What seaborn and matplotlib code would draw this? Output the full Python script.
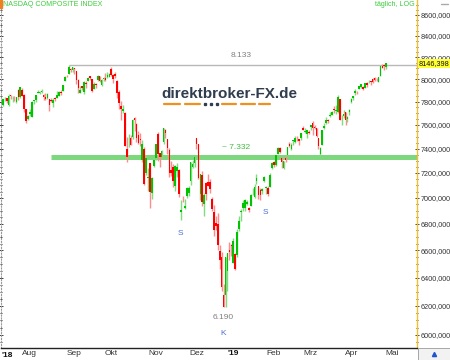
import numpy as np
import pandas as pd
import matplotlib
matplotlib.use('Agg')
import matplotlib.pyplot as plt
import seaborn as sns
from matplotlib.ticker import FixedLocator, NullFormatter
from matplotlib.lines import Line2D
from matplotlib.patches import Rectangle

# NASDAQ Composite, daily candles 12.07.2018 - 26.04.2019
start_day = '2018-07-12'
end_axis_day = '2019-05-01'
holidays = ['2018-09-03', '2018-11-22', '2018-12-05', '2018-12-25',
            '2019-01-01', '2019-01-21', '2019-02-18', '2019-04-19']

opens = [
    7771, 7826, 7830, 7770, 7855, 7825, 7823, 7799, 7906, 7843, 7900, 7864, 7733, 7654,
    7691, 7670, 7807, 7815, 7880, 7880, 7885, 7862, 7843, 7836, 7827, 7816, 7790, 7831, 7835, 7853, 7885, 7898, 7986, 8033, 8048, 8090, 8085,
    8101, 8071, 7996, 7880, 7936, 7885, 7969, 7987, 8027, 8006, 7914, 7960, 7990, 8032, 7949, 8004, 8009, 8017, 8023,
    8090, 8034, 8045, 7985, 7886, 7761, 7719, 7706, 7396, 7493, 7485, 7498, 7655, 7609, 7517, 7480, 7306, 7400, 7203, 7160, 7278, 7042, 7254,
    7322, 7526, 7360, 7327, 7454, 7552, 7479, 7386, 7224, 7250, 7096, 7212, 7225, 6892, 6974, 6920, 7014, 7037, 7136, 7250, 7279,
    7486, 7434, 7029, 7180, 6950, 7119, 7124, 7123, 6990, 6891, 6808, 6799, 6594, 6553, 6278, 6278, 6449, 6600, 6638,
    6507, 6573, 6568, 6758, 6893, 6923, 6918, 6956, 6918, 6938, 7028, 7004, 7138, 7096, 7064, 7059, 7135, 7079, 7079, 7086, 7240,
    7286, 7264, 7358, 7403, 7325, 7243, 7325, 7350, 7437, 7397, 7467, 7454, 7491, 7481, 7485, 7572, 7541, 7524, 7539,
    7578, 7620, 7584, 7575, 7490, 7351, 7432, 7575, 7615, 7641, 7680, 7689, 7739, 7720, 7707, 7821, 7631, 7679, 7711, 7653, 7711,
    7800, 7829, 7877, 7893, 7914, 7927, 7929, 7925, 7969, 7981, 7985, 7998, 8010, 8000, 7979, 8030, 8123, 8127, 8109,
]
highs = [
    7828, 7843, 7837, 7866, 7859, 7849, 7852, 7845, 7913, 7933, 7920, 7870, 7739, 7689,
    7738, 7811, 7813, 7862, 7905, 7898, 7914, 7868, 7876, 7875, 7828, 7832, 7830, 7838, 7891, 7897, 7902, 7947, 8028, 8039, 8133, 8099, 8115,
    8104, 8072, 8000, 7944, 7944, 7984, 7983, 8016, 8031, 8006, 7974, 7968, 8036, 8032, 8000, 8020, 8053, 8062, 8056,
    8112, 8049, 8067, 7989, 7903, 7810, 7772, 7715, 7498, 7523, 7513, 7652, 7666, 7618, 7545, 7528, 7469, 7410, 7343, 7240, 7283, 7168, 7344,
    7438, 7538, 7361, 7392, 7573, 7564, 7480, 7403, 7294, 7276, 7263, 7279, 7229, 6981, 7017, 6993, 7085, 7098, 7292, 7304, 7332,
    7487, 7435, 7191, 7216, 7040, 7123, 7191, 7151, 7006, 6942, 6862, 6881, 6641, 6586, 6355, 6554, 6580, 6664, 6650,
    6694, 6580, 6760, 6856, 6910, 6987, 6989, 6987, 6928, 7031, 7080, 7110, 7188, 7098, 7076, 7082, 7176, 7092, 7091, 7197, 7291,
    7299, 7348, 7413, 7410, 7327, 7298, 7338, 7416, 7453, 7447, 7472, 7503, 7505, 7481, 7528, 7594, 7570, 7558, 7559,
    7598, 7632, 7598, 7576, 7492, 7410, 7560, 7619, 7664, 7654, 7712, 7721, 7762, 7775, 7857, 7827, 7684, 7729, 7714, 7680, 7733,
    7830, 7849, 7910, 7899, 7939, 7954, 7944, 7964, 7972, 7994, 7986, 8013, 8016, 8007, 8017, 8125, 8140, 8139, 8148,
]
lows = [
    7766, 7806, 7793, 7766, 7820, 7797, 7811, 7791, 7819, 7829, 7847, 7713, 7620, 7640,
    7678, 7668, 7783, 7800, 7877, 7870, 7881, 7814, 7815, 7828, 7723, 7800, 7750, 7803, 7831, 7847, 7862, 7894, 7985, 8016, 8047, 8065, 8068,
    8050, 7958, 7880, 7875, 7904, 7869, 7918, 7982, 7990, 7889, 7910, 7918, 7987, 7978, 7941, 7980, 7985, 8015, 8017,
    8031, 7963, 8011, 7829, 7738, 7640, 7701, 7422, 7292, 7409, 7430, 7478, 7550, 7456, 7434, 7419, 7292, 7105, 7185, 7055, 6922, 6993, 7245,
    7302, 7301, 7252, 7315, 7440, 7492, 7358, 7164, 7177, 7089, 7055, 7171, 7008, 6830, 6970, 6915, 7003, 7016, 7106, 7237, 7252,
    7394, 7151, 6986, 6940, 6858, 6985, 7097, 7037, 6900, 6706, 6752, 6600, 6465, 6304, 6193, 6190, 6305, 6525, 6560,
    6506, 6457, 6554, 6741, 6821, 6900, 6902, 6943, 6888, 6936, 7026, 7000, 7114, 6994, 6986, 7031, 7123, 7034, 7016, 7084, 7229,
    7248, 7254, 7354, 7365, 7242, 7232, 7293, 7348, 7416, 7386, 7432, 7449, 7464, 7426, 7473, 7553, 7527, 7490, 7524,
    7555, 7513, 7562, 7500, 7399, 7333, 7430, 7567, 7610, 7620, 7667, 7681, 7702, 7694, 7702, 7643, 7595, 7663, 7600, 7627, 7688,
    7787, 7816, 7860, 7866, 7912, 7918, 7902, 7922, 7935, 7965, 7951, 7967, 7984, 7980, 7974, 8029, 8102, 8081, 8089,
]
closes = [
    7823, 7826, 7805, 7855, 7854, 7825, 7820, 7841, 7840, 7932, 7852, 7737, 7630, 7672,
    7708, 7802, 7812, 7860, 7884, 7888, 7892, 7839, 7820, 7871, 7775, 7806, 7816, 7821, 7859, 7889, 7878, 7945, 8018, 8030, 8110, 8088, 8110,
    8092, 7995, 7922, 7903, 7925, 7973, 7955, 8014, 8010, 7896, 7957, 7950, 8028, 7987, 7994, 8008, 7991, 8042, 8046,
    8037, 7999, 8025, 7879, 7788, 7735, 7738, 7422, 7329, 7497, 7431, 7645, 7642, 7485, 7449, 7469, 7437, 7108, 7318, 7167, 7050, 7162, 7306,
    7434, 7357, 7328, 7376, 7571, 7531, 7407, 7200, 7200, 7136, 7259, 7248, 7028, 6909, 6973, 6939, 7082, 7082, 7292, 7274, 7331,
    7442, 7158, 7189, 6970, 7020, 7032, 7098, 7070, 6911, 6753, 6784, 6637, 6528, 6333, 6193, 6554, 6580, 6585, 6635,
    6666, 6463, 6739, 6823, 6897, 6957, 6986, 6971, 6905, 7024, 7034, 7085, 7157, 7020, 7026, 7073, 7165, 7085, 7028, 7183, 7282,
    7264, 7348, 7403, 7375, 7288, 7298, 7307, 7414, 7420, 7426, 7472, 7487, 7490, 7460, 7528, 7554, 7549, 7555, 7533,
    7595, 7577, 7577, 7505, 7421, 7408, 7558, 7591, 7644, 7631, 7689, 7714, 7724, 7728, 7838, 7643, 7637, 7692, 7644, 7669, 7729,
    7828, 7848, 7895, 7891, 7938, 7954, 7909, 7964, 7947, 7985, 7976, 7976, 7996, 7998, 8016, 8120, 8102, 8119, 8146.398,
]

month_names = {8: 'Aug', 9: 'Sep', 10: 'Okt', 11: 'Nov', 12: 'Dez', 1: "'19",
               2: 'Feb', 3: 'Mrz', 4: 'Apr', 5: 'Mai'}
y_ticks = [6000, 6200, 6400, 6600, 6800, 7000, 7200, 7400, 7600, 7800, 8000, 8200, 8400, 8600]

high_level = 8133
high_day = '2018-08-29'
support_level = 7332
support_day = '2018-08-16'

# ------------------------------------------------------------------
days = pd.bdate_range(start_day, end_axis_day).drop(pd.to_datetime(holidays))
df = pd.DataFrame({'date': days[:len(closes)], 'open': opens, 'high': highs,
                   'low': lows, 'close': closes})
df['x'] = np.arange(len(df))
df['up'] = df['close'] >= df['open']

sns.set_theme(style='white')
plt.rcParams['font.family'] = ['Liberation Sans', 'DejaVu Sans']

fig = plt.figure(figsize=(4.5, 3.6), dpi=100)
ax = fig.add_axes([1 / 450, 12 / 360, 416 / 450, 348 / 360])
ax.set_facecolor('white')

# candles
wick_col = np.where(df['up'], '#7fdc7f', '#ff8c8c')
body_col = np.where(df['up'], '#00c400', '#ff0000')
ax.vlines(df['x'], df['low'], df['high'], colors=wick_col, lw=1.0, zorder=3)
body_low = df[['open', 'close']].min(axis=1)
body_h = (df['close'] - df['open']).abs().clip(lower=2)
ax.bar(df['x'], body_h, bottom=body_low, width=0.85, color=body_col, lw=0, zorder=4)

ax.set_yscale('log')
ax.set_ylim(5913, 8746)
ax.set_xlim(-0.96, 213.9)

# levels
peak_idx = int(df.index[df['date'] == high_day][0])
sup_start = int(df.index[df['date'] == support_day][0])
ax.hlines(high_level, peak_idx, 213.9, color='#b8b8b8', lw=1, zorder=2)
ax.hlines(support_level, sup_start, 213.9, color='#6fd36f', lw=3.6, alpha=0.9, zorder=2)
ax.text(123, 8221, '8.133', color='#808080', fontsize=6, ha='center', va='center')
ax.text(120.5, 7405, '~ 7.332', color='#44bb44', fontsize=6, ha='center', va='center')
ax.text(113.7, 6116, '6.190', color='#808080', fontsize=6, ha='center', va='center')
for xi, yv, s in [(91.5, 6722, 'S'), (113.7, 6013, 'K'), (135.7, 6890, 'S')]:
    ax.text(xi, yv, s, color='#4a6fd8', fontsize=6, ha='center', va='center')

# y axis on the right
ax.yaxis.set_major_locator(FixedLocator(y_ticks))
ax.yaxis.set_minor_locator(FixedLocator(np.arange(5950, 8750, 50)))
ax.yaxis.set_minor_formatter(NullFormatter())
ax.set_yticklabels([f'{v},000' for v in y_ticks])
ax.yaxis.tick_right()
ax.tick_params(axis='y', which='both', left=True, right=True, labelleft=False,
               labelright=True, direction='inout', color='#222', width=0.6,
               labelsize=5.2, pad=1.2, labelcolor='#333')
ax.tick_params(axis='y', which='major', length=3)
ax.tick_params(axis='y', which='minor', length=2)

# x axis: month starts
all_days = pd.Series(days)
starts = all_days.index[all_days.dt.month != all_days.dt.month.shift()].tolist()[1:]
ax.set_xticks(starts)
ax.set_xticklabels([month_names[all_days[i].month] for i in starts])
ax.tick_params(axis='x', length=0, labelsize=6, pad=1.5, labelcolor='#333')
for lab in ax.get_xticklabels():
    if lab.get_text().startswith("'"):
        lab.set_fontweight('bold')
        lab.set_color('#111')
ax.text(0.0, -0.022, "'18", transform=ax.transAxes, fontsize=6, fontweight='bold',
        color='#111', ha='left', va='center')

ax.spines['top'].set_visible(False)
ax.spines['right'].set_color('#f0c030')
ax.spines['right'].set_linestyle((0, (2, 1)))
ax.spines['right'].set_linewidth(1)
ax.spines['left'].set_color('#999999')
ax.spines['left'].set_linestyle(':')
ax.spines['left'].set_linewidth(0.8)
ax.spines['bottom'].set_color('#222222')
ax.spines['bottom'].set_linewidth(1)

# last price tag (covers the 8200 label like in the original)
ax.text(1.004, closes[-1], f'{closes[-1]:.3f}'.replace('.', ','),
        transform=ax.get_yaxis_transform(), fontsize=5.2, color='#111',
        ha='left', va='center', clip_on=False, zorder=10,
        bbox=dict(boxstyle='square,pad=0.12', fc='#ffff33', ec='none'))

# header texts
fig.text(3 / 450, 1 - 5 / 360, 'NASDAQ COMPOSITE INDEX', color='#3ccc3c',
         fontsize=5.1, ha='left', va='center')
fig.text(415 / 450, 1 - 5 / 360, 'täglich, LOG', color='#3ccc3c',
         fontsize=5.1, ha='right', va='center')
fig.add_artist(Rectangle((0, 352 / 360), 2 / 450, 8 / 360, color='#f08020',
                         transform=fig.transFigure))
fig.add_artist(Line2D([441 / 450, 448 / 450], [1 - 4 / 360] * 2, color='#aaaaaa',
                      lw=1, transform=fig.transFigure))

# watermark
fig.text(229 / 450, 1 - 94 / 360, 'direktbroker-FX.de', ha='center', va='center',
         fontsize=11, fontweight='bold', color='#2f3d4e')
uy = 1 - 104 / 360
for a, b in [(164, 180), (185, 200), (222, 236), (241, 255), (259, 270)]:
    fig.add_artist(Line2D([a / 450, b / 450], [uy, uy], color='#f0901e', lw=1.6,
                          transform=fig.transFigure))
for d in [205, 211, 217]:
    fig.add_artist(Line2D([d / 450], [uy], marker='s', ms=1.4, color='#2f3d4e',
                          transform=fig.transFigure))

# bottom right box
fig.add_artist(Rectangle((418 / 450, 0), 32 / 450, 12 / 360, fc='#f2f2f2', ec='#999999',
                         lw=0.6, transform=fig.transFigure))
fig.add_artist(Line2D([434 / 450], [6 / 360], marker='^', ms=3, color='#2255cc',
                      transform=fig.transFigure))

fig.savefig('out.png', dpi=100)
